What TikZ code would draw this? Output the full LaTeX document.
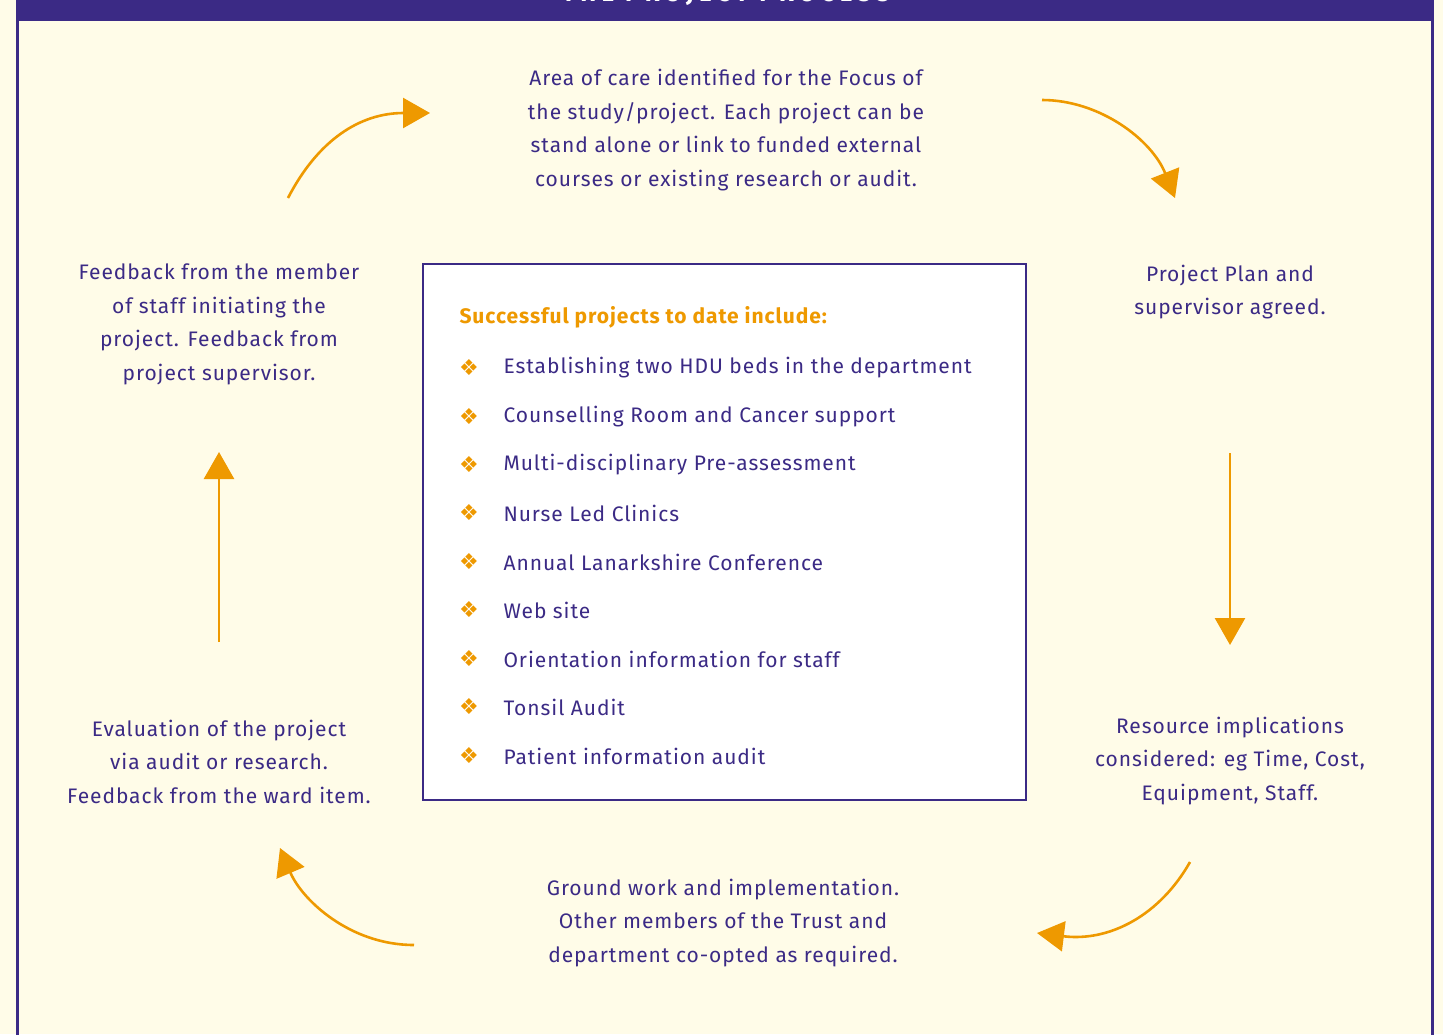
\documentclass[tikz,border=0pt]{standalone}
\usepackage{fontspec}
\setmainfont{Fira Sans}[LetterSpace=4.5]
\newfontfamily\bulletfont{DejaVu Sans}
\newfontfamily\titlefont{Fira Sans}[LetterSpace=22]
\usetikzlibrary{arrows.meta}
\definecolor{procpurple}{HTML}{3B2A85}
\definecolor{procorange}{HTML}{EE9900}
\definecolor{proccream}{HTML}{FFFCE8}

\begin{document}
\begin{tikzpicture}[x=1pt,y=-1pt,
  steptext/.style={text=procpurple,align=center,font=\fontsize{21}{33.5}\selectfont},
  listtext/.style={text=procpurple,anchor=west,font=\fontsize{21}{24}\selectfont},
  bulletmark/.style={text=procorange,font=\bulletfont\fontsize{22}{22}\selectfont},
  cyclearrow/.style={draw=procorange,line width=2.6pt,-{Triangle[length=27pt,width=30pt]}}]
\useasboundingbox (0,0) rectangle (1443,1034);
\fill[proccream] (0,0) rectangle (1443,1034);
% frame and title bar
\fill[procpurple] (16,-20) rectangle (1434,21);
\draw[procpurple,line width=3pt] (17.5,21)--(17.5,1050) (1432.5,21)--(1432.5,1050);
\node[text=white,font=\titlefont\bfseries\fontsize{24}{24}\selectfont] (title) at (726,-5) {THE PROJECT PROCESS};
% list box
\node[draw=procpurple,line width=2.5pt,fill=white,minimum width=603pt,minimum height=536pt] (listbox) at (724.5,532) {};
\node[anchor=west,text=procorange,font=\bfseries\fontsize{21}{24}\selectfont] (listhead) at (456,317) {Successful projects to date include:};
\foreach \y/\txt [count=\i] in {368/Establishing two HDU beds in the department,417/Counselling Room and Cancer support,
  465/Multi-disciplinary Pre-assessment,513/Nurse Led Clinics,562/Annual Lanarkshire Conference,610/Web site,
  659/Orientation information for staff,707/Tonsil Audit,756/Patient information audit}{
  \node[bulletmark] (mark\i) at (469,\y) {❖};
  \node[listtext] (item\i) at (500,\y) {\txt};
}
% the six steps
\node[steptext] (focus) at (726,130) {Area of care identified for the Focus of\\the study/project. Each project can be\\stand alone or link to funded external\\courses or existing research or audit.};
\node[steptext] (plan) at (1230,292) {Project Plan and\\supervisor agreed.};
\node[steptext] (resource) at (1230,761) {Resource implications\\considered: eg Time, Cost,\\Equipment, Staff.};
\node[steptext] (ground) at (723,923) {Ground work and implementation.\\Other members of the Trust and\\department co-opted as required.};
\node[steptext] (evaluation) at (219,761.5) {Evaluation of the project\\via audit or research.\\Feedback from the ward item.};
\node[steptext] (feedback) at (219,324.5) {Feedback from the member\\of staff initiating the\\project. Feedback from\\project supervisor.};
% arrow ends
\coordinate (focusin) at (288,198);
\coordinate (focusend) at (430,113);
\coordinate (planin) at (1042,100);
\coordinate (planend) at (1175,198);
\coordinate (resin) at (1230,453);
\coordinate (resend) at (1230,645);
\coordinate (groundin) at (1190,862);
\coordinate (groundend) at (1037,933);
\coordinate (evalin) at (414,945);
\coordinate (evalend) at (280,848);
\coordinate (backin) at (219,642);
\coordinate (backend) at (219,452);
\draw[cyclearrow] (focusin) .. controls (318,140) and (360,113) .. (focusend);
\draw[cyclearrow] (planin) .. controls (1100,100) and (1152,140) .. (planend);
\draw[cyclearrow] (resin) -- (resend);
\draw[cyclearrow] (groundin) .. controls (1160,915) and (1110,942) .. (groundend);
\draw[cyclearrow] (evalin) .. controls (350,945) and (302,900) .. (evalend);
\draw[cyclearrow] (backin) -- (backend);
\end{tikzpicture}
\end{document}
